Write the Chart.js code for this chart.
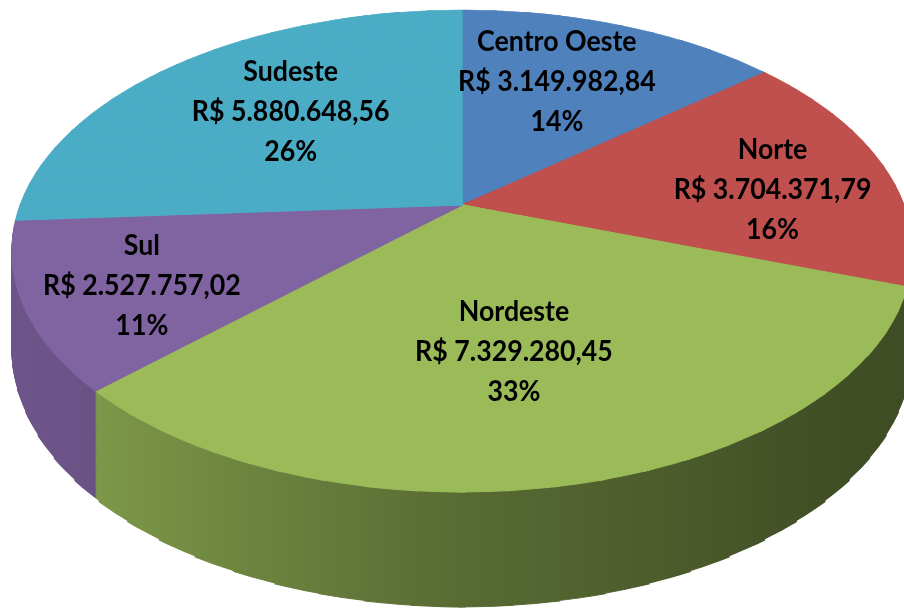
<!DOCTYPE html>
<html>
<head>
<meta charset="utf-8">
<script src="https://cdn.jsdelivr.net/npm/chart.js@4.4.0/dist/chart.umd.min.js"></script>
<style>
  html, body { margin: 0; padding: 0; background: #fff; }
  #wrap { width: 904px; height: 611px; }
</style>
</head>
<body>
<div id="wrap"><canvas id="regionChart"></canvas></div>
<script>
const regions = ["Centro Oeste", "Norte", "Nordeste", "Sul", "Sudeste"];
const amounts = [3149982.84, 3704371.79, 7329280.45, 2527757.02, 5880648.56];
const percentLabels = ["14%", "16%", "33%", "11%", "26%"];
const colors = ['#4F81BD', '#C0504D', '#9BBB59', '#8064A2', '#4BACC6'];

// perspective of the tilted pie: apex on screen, foreshortening k, half axes A/B
const persp = { ax: 462, ay: 205, k: 0.1909, A: 441.7, B: 232.2, depth: 115 };
const SECTOR = Math.PI / 36;
const labelNudge = [[-7, -9], [55, 9], [-12, -6], [-66, 22], [8, -5]];

function brl(v) {
  const [int, dec] = v.toFixed(2).split('.');
  return 'R$ ' + int.replace(/\B(?=(\d{3})+(?!\d))/g, '.') + ',' + dec;
}

function shade(hex, k) {
  const n = parseInt(hex.slice(1), 16);
  const r = Math.round(((n >> 16) & 255) * k);
  const g = Math.round(((n >> 8) & 255) * k);
  const b = Math.round((n & 255) * k);
  return `rgb(${r},${g},${b})`;
}

// phi: clockwise from 12 o'clock, t: fraction of radius
function project(phi, t) {
  const x = t * Math.sin(phi), y = -t * Math.cos(phi);
  const w = 1 - persp.k * y;
  return [persp.ax + persp.A * x / w, persp.ay + persp.B * y / w];
}

function rimW(phi) {
  return 1 + persp.k * Math.cos(phi);
}

// affine map of one thin wedge of the flat pie onto the perspective view
function sectorTransform(ctx, el, p1, p2, dy) {
  const R = el.outerRadius;
  const u1x = R * Math.sin(p1), u1y = -R * Math.cos(p1);
  const u2x = R * Math.sin(p2), u2y = -R * Math.cos(p2);
  const t1 = project(p1, 1), t2 = project(p2, 1);
  const v1x = t1[0] - persp.ax, v1y = t1[1] - persp.ay;
  const v2x = t2[0] - persp.ax, v2y = t2[1] - persp.ay;
  const det = u1x * u2y - u2x * u1y;
  const a = (v1x * u2y - v2x * u1y) / det;
  const c = (v2x * u1x - v1x * u2x) / det;
  const b = (v1y * u2y - v2y * u1y) / det;
  const d = (v2y * u1x - v1y * u2x) / det;
  const e = persp.ax - (a * el.x + c * el.y);
  const f = persp.ay + dy - (b * el.x + d * el.y);
  ctx.transform(a, b, c, d, e, f);
}

function drawSector(ctx, arcs, optsList, p1, p2, dy) {
  const el0 = arcs[0];
  const cx = el0.x, cy = el0.y;
  const ext = el0.outerRadius * 1.15;
  const pad = 2;
  // wedge widened by a fixed pad so neighbouring wedges overlap near the centre
  const n1x = -Math.cos(p1) * pad, n1y = -Math.sin(p1) * pad;
  const n2x = Math.cos(p2) * pad, n2y = Math.sin(p2) * pad;
  ctx.save();
  sectorTransform(ctx, el0, p1, p2, dy);
  ctx.beginPath();
  ctx.moveTo(cx + n1x, cy + n1y);
  ctx.lineTo(cx + ext * Math.sin(p1) + n1x, cy - ext * Math.cos(p1) + n1y);
  ctx.lineTo(cx + ext * Math.sin(p2) + n2x, cy - ext * Math.cos(p2) + n2y);
  ctx.lineTo(cx + n2x, cy + n2y);
  ctx.closePath();
  ctx.clip();
  const a1 = p1 - Math.PI / 2, a2 = p2 - Math.PI / 2;
  const eps = 0.01;
  arcs.forEach((el, i) => {
    if (el.startAngle > a2 + eps || el.endAngle < a1 - eps) return;
    const keep = el.options;
    if (optsList) el.options = optsList[i];
    el.draw(ctx);
    el.options = keep;
  });
  ctx.restore();
}

const pie3d = {
  id: 'pie3d',
  beforeDatasetsDraw(chart) {
    const ctx = chart.ctx;
    const arcs = chart.getDatasetMeta(0).data;
    const el0 = arcs[0];
    const R = el0.outerRadius;
    const sides = arcs.map((el, i) => {
      const g = ctx.createLinearGradient(el0.x - R, 0, el0.x + R, 0);
      g.addColorStop(0, shade(colors[i], 0.85));
      g.addColorStop(0.1, shade(colors[i], 0.84));
      g.addColorStop(0.5, shade(colors[i], 0.57));
      g.addColorStop(0.85, shade(colors[i], 0.42));
      g.addColorStop(1, shade(colors[i], 0.4));
      return Object.assign({}, el.options, { backgroundColor: g, borderColor: g });
    });

    const n = Math.round(2 * Math.PI / SECTOR);
    const front = [];
    for (let s = 0; s < n; s++) {
      const p1 = s * SECTOR, p2 = p1 + SECTOR;
      const mid = (p1 + p2) / 2;
      if (mid > Math.PI * 0.52 && mid < Math.PI * 1.48) {
        front.push([p1, p2, persp.depth * (1 - persp.k) / rimW(mid)]);
      }
    }
    const steps = persp.depth;
    for (let j = steps; j > 0; j--) {
      front.forEach(([p1, p2, dep]) => drawSector(ctx, arcs, sides, p1, p2, dep * j / steps));
    }
    for (let s = 0; s < n; s++) {
      drawSector(ctx, arcs, null, s * SECTOR, (s + 1) * SECTOR, 0);
    }
    return false;
  },
  afterDraw(chart) {
    const ctx = chart.ctx;
    const arcs = chart.getDatasetMeta(0).data;
    ctx.save();
    ctx.font = 'bold 28px Lato';
    ctx.fillStyle = '#000';
    ctx.textAlign = 'center';
    ctx.textBaseline = 'middle';
    arcs.forEach((el, i) => {
      const phi = (el.startAngle + el.endAngle) / 2 + Math.PI / 2;
      const [px, py] = project(phi, 0.6);
      const x = px + labelNudge[i][0];
      const y = py + labelNudge[i][1];
      [regions[i], brl(amounts[i]), percentLabels[i]].forEach((t, k) => {
        ctx.save();
        ctx.translate(x, y + (k - 1) * 40);
        ctx.scale(0.955, 1);
        ctx.fillText(t, 0, 0);
        ctx.restore();
      });
    });
    ctx.restore();
  }
};

new Chart(document.getElementById('regionChart'), {
  type: 'pie',
  data: {
    labels: regions,
    datasets: [{
      data: amounts,
      backgroundColor: colors,
      borderColor: colors,
      borderWidth: 1
    }]
  },
  options: {
    responsive: true,
    maintainAspectRatio: false,
    animation: false,
    plugins: { legend: { display: false }, tooltip: { enabled: false } }
  },
  plugins: [pie3d]
});
</script>
</body>
</html>
